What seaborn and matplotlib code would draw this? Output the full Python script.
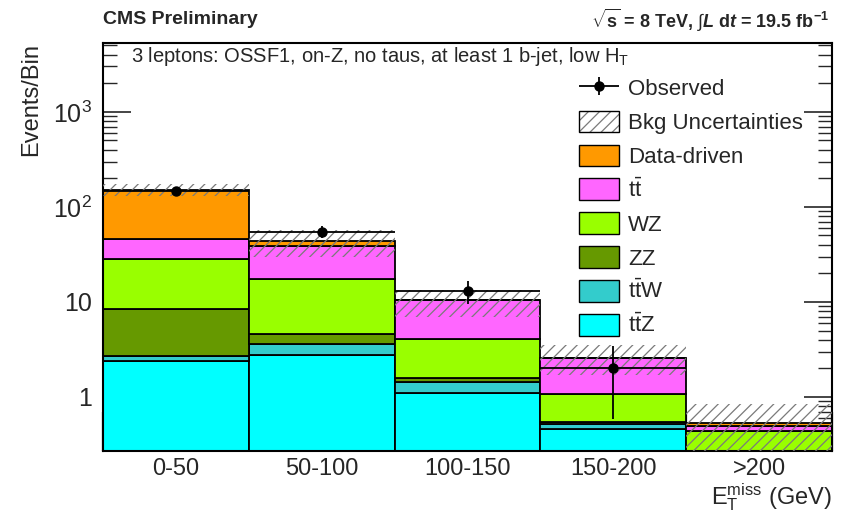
import numpy as np
import pandas as pd
import matplotlib
matplotlib.use("Agg")
import matplotlib.pyplot as plt
import seaborn as sns
from matplotlib.patches import Patch
from matplotlib.legend_handler import HandlerTuple, HandlerErrorbar
from matplotlib.ticker import FixedLocator, LogLocator, NullFormatter

# --- data -----------------------------------------------------------------
bin_labels = ["0-50", "50-100", "100-150", "150-200", ">200"]

ttz = [2.39, 2.79, 1.10, 0.46, 0.12]
ttw = [0.29, 0.80, 0.34, 0.06, 0.03]
zz = [5.8, 0.98, 0.16, 0.03, 0.03]
wz = [20.1, 13.0, 2.45, 0.52, 0.26]
ttbar = [16.8, 21.3, 6.35, 1.53, 0.06]
data_driven = [104.6, 5.0, 0.05, 0.0, 0.037]

bkg_low = [130, 30, 7.0, 1.7, 0.2]
bkg_high = [176, 57, 13.3, 3.5, 0.85]

observed = [148, 55, 13, 2, 0]

process_keys = ["dd", "tt", "wz", "zz", "ttw", "ttz"]
process_labels = ["Data-driven", r"$\mathrm{t\bar{t}}$", "WZ", "ZZ",
                  r"$\mathrm{t\bar{t}W}$", r"$\mathrm{t\bar{t}Z}$"]
process_colors = ["#ff9900", "#ff66ff", "#99ff00", "#669900", "#33cccc", "#00ffff"]

# --- style ----------------------------------------------------------------
sns.set_style("ticks")
plt.rcParams["font.family"] = ["Liberation Sans", "DejaVu Sans"]
plt.rcParams["mathtext.fontset"] = "custom"
plt.rcParams["mathtext.rm"] = "Liberation Sans"
plt.rcParams["mathtext.it"] = "Liberation Sans:italic"
plt.rcParams["mathtext.bf"] = "Liberation Sans:bold"
plt.rcParams["mathtext.bfit"] = "Liberation Sans:bold:italic"
plt.rcParams["hatch.linewidth"] = 0.9
plt.rcParams["axes.linewidth"] = 1.5

fig = plt.figure(figsize=(8.5, 5.12), dpi=100)
ax = fig.add_axes([103 / 850, 61 / 512, 729 / 850, 408 / 512])

# --- stacked backgrounds --------------------------------------------------
n_bins = len(bin_labels)
centers = np.arange(n_bins) + 0.5
edges = list(range(n_bins + 1))
series = dict(zip(process_keys, [data_driven, ttbar, wz, zz, ttw, ttz]))
rows = []
for key in process_keys:
    for c, v in zip(centers, series[key]):
        rows.append({"x": float(c), "events": v, "process": key})
df = pd.DataFrame(rows)

sns.histplot(data=df, x="x", weights="events", hue="process",
             hue_order=process_keys, palette=dict(zip(process_keys, process_colors)),
             multiple="stack", bins=edges, element="bars", alpha=1.0,
             edgecolor="black", linewidth=1.3, legend=False, ax=ax)

ax.set_yscale("log")

# background uncertainty band
hatch_color = "#7a7a7a"
low = np.array(bkg_low)
high = np.array(bkg_high)
ax.bar(centers, high - low, bottom=low, width=1.0, fill=False, hatch="///",
       edgecolor=hatch_color, linewidth=0, zorder=5)

# observed data
obs = np.array(observed, dtype=float)
mask = obs > 0
obs_handle = ax.errorbar(centers[mask], obs[mask], xerr=0.5, yerr=np.sqrt(obs[mask]),
                         fmt="o", color="black", ms=6.5, elinewidth=1.3, capsize=0,
                         zorder=6)

# --- axes -----------------------------------------------------------------
ax.set_xlim(0, n_bins)
ax.set_ylim(0.27, 5300)

ax.set_xticks(edges)
ax.set_xticklabels([""] * len(edges))
ax.set_xticks(centers, minor=True)
ax.set_xticklabels(bin_labels, minor=True)
ax.tick_params(axis="x", which="major", direction="in", length=28, width=1.6,
               bottom=True, top=False)
ax.tick_params(axis="x", which="minor", length=0, labelsize=17, pad=5)

ax.yaxis.set_major_locator(FixedLocator([1, 10, 100, 1000]))
ax.set_yticklabels(["1", "10", r"$\mathregular{10^{2}}$", r"$\mathregular{10^{3}}$"])
ax.yaxis.set_minor_locator(LogLocator(base=10, subs=np.arange(2, 10)))
ax.yaxis.set_minor_formatter(NullFormatter())
ax.tick_params(axis="y", which="major", direction="in", length=20, width=1.2,
               left=True, right=True, labelsize=18, pad=8)
ax.tick_params(axis="y", which="minor", direction="in", length=10, width=1.0,
               left=True, right=True)

for s in ax.spines.values():
    s.set_visible(True)
    s.set_linewidth(1.5)
    s.set_color("black")

ax.set_ylabel("Events/Bin", fontsize=17, loc="top")
ax.yaxis.set_label_coords(-0.084, 1.0)
ax.set_xlabel(r"$\mathregular{E_{T}^{miss}}$ (GeV)", fontsize=17, loc="right")
ax.xaxis.set_label_coords(1.0, -0.132)
ax.xaxis.label.set_verticalalignment("baseline")

# --- texts ----------------------------------------------------------------
ax.text(28 / 729, 1 - 14 / 408, r"3 leptons: OSSF1, on-Z, no taus, at least 1 b-jet, low $\mathregular{H_{T}}$",
        transform=ax.transAxes, fontsize=14.5, va="center", ha="left")
fig.text(103 / 850, 1 - 20 / 512, "CMS Preliminary", fontsize=14, fontweight="bold",
         va="center", ha="left")
fig.text(829 / 850, 1 - 20 / 512,
         r"$\mathbf{\sqrt{s}}$ = 8 TeV, $\int$$\mathbfit{L}$ d$\mathbfit{t}$ = 19.5 fb$\mathbf{^{-1}}$",
         fontsize=13, fontweight="bold", va="center", ha="right")

# --- legend ---------------------------------------------------------------
band_handle = (Patch(facecolor="white", hatch="///", edgecolor=hatch_color, linewidth=0),
               Patch(fill=False, edgecolor="black", linewidth=1.0))
handles = [obs_handle, band_handle] + [
    Patch(facecolor=c, edgecolor="black", linewidth=1.0) for c in process_colors]
labels = ["Observed", "Bkg Uncertainties"] + process_labels
ax.legend(handles, labels, loc="upper left", bbox_to_anchor=(0.653, 0.917),
          frameon=False, fontsize=16, handlelength=1.8, handleheight=1.13,
          labelspacing=0.47, handletextpad=0.4, borderpad=0, borderaxespad=0,
          handler_map={tuple: HandlerTuple(ndivide=1, pad=0),
                       obs_handle: HandlerErrorbar(xerr_size=0.9, yerr_size=0.4)})

fig.savefig("out.png", dpi=100)
